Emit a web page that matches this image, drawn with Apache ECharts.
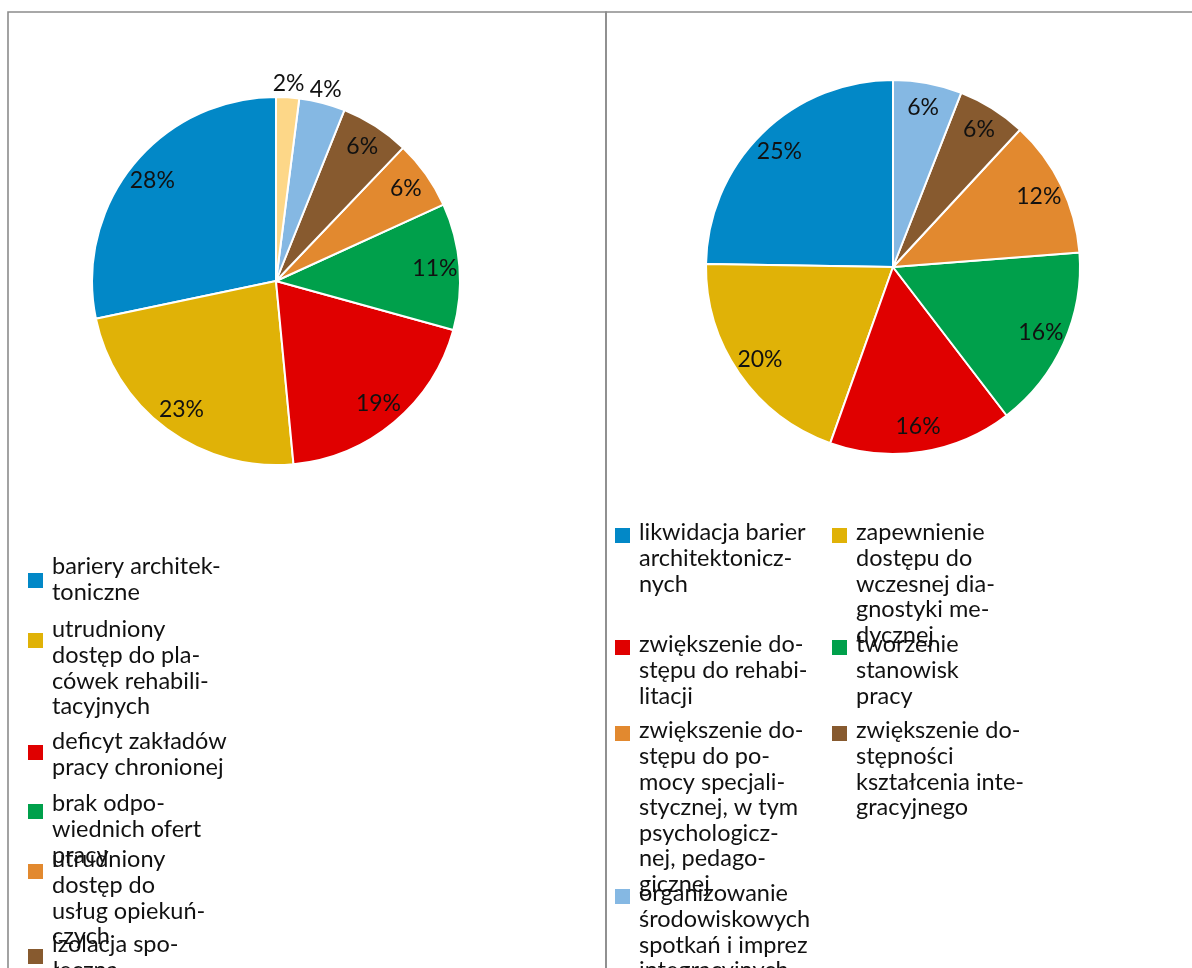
<!DOCTYPE html>
<html lang="pl">
<head>
<meta charset="utf-8">
<title>Bariery i potrzeby</title>
<script src="https://cdn.jsdelivr.net/npm/echarts@6/dist/echarts.min.js"></script>
<style>
  html, body { margin: 0; padding: 0; background: #fff; }
  #chart { width: 1192px; height: 968px; }
</style>
</head>
<body>
<div id="chart"></div>
<script>
// Lewy wykres: bariery
const leftCategories = [
  'bariery architektoniczne',
  'utrudniony dostęp do placówek rehabilitacyjnych',
  'deficyt zakładów pracy chronionej',
  'brak odpowiednich ofert pracy',
  'utrudniony dostęp do usług opiekuńczych',
  'izolacja społeczna',
  'bariery komunikacyjne',
  'inne'
];
const leftLegendText = [
  'bariery architek-\ntoniczne',
  'utrudniony\ndostęp do pla-\ncówek rehabili-\ntacyjnych',
  'deficyt zakładów\npracy chronionej',
  'brak odpo-\nwiednich ofert\npracy',
  'utrudniony\ndostęp do\nusług opiekuń-\nczych',
  'izolacja spo-\nłeczna',
  'bariery komuni-\nkacyjne',
  'inne'
];
const leftValues = [28, 23, 19, 11, 6, 6, 4, 2];

// Prawy wykres: potrzeby
const rightCategories = [
  'likwidacja barier architektonicznych',
  'zapewnienie dostępu do wczesnej diagnostyki medycznej',
  'zwiększenie dostępu do rehabilitacji',
  'tworzenie stanowisk pracy',
  'zwiększenie dostępu do pomocy specjalistycznej, w tym psychologicznej, pedagogicznej',
  'zwiększenie dostępności kształcenia integracyjnego',
  'organizowanie środowiskowych spotkań i imprez integracyjnych'
];
const rightLegendText = [
  'likwidacja barier\narchitektonicz-\nnych',
  'zapewnienie\ndostępu do\nwczesnej dia-\ngnostyki me-\ndycznej',
  'zwiększenie do-\nstępu do rehabi-\nlitacji',
  'tworzenie\nstanowisk\npracy',
  'zwiększenie do-\nstępu do po-\nmocy specjali-\nstycznej, w tym\npsychologicz-\nnej, pedago-\ngicznej',
  'zwiększenie do-\nstępności\nkształcenia inte-\ngracyjnego',
  'organizowanie\nśrodowiskowych\nspotkań i imprez\nintegracyjnych'
];
const rightValues = [25, 20, 16, 16, 12, 6, 6];

// Paleta kolorów
const leftColors = ['#0288C7', '#E0B207', '#E00000', '#00A04B', '#E2892F', '#875A2F', '#85B8E3', '#FDD788'];
const rightColors = ['#0288C7', '#E0B207', '#E00000', '#00A04B', '#E2892F', '#875A2F', '#85B8E3'];

const FONT = 'Lato, "Open Sans", sans-serif';
const TEXT_COLOR = '#111';
const LABEL_SIZE = 23;
const LEGEND_SIZE = 23.5;
const LINE_H = 25.6;
const BASE_OFF = 22; // od góry bloku tekstu do linii bazowej pierwszego wiersza

// Układ legend
const leftLegendLayout = {
  squareX: 28, textX: 52,
  squareTop: [573, 633, 745, 804, 864, 949, 1012, 1075],
  baseline:  [576, 639, 751, 813, 869, 954, 1017, 1080]
};
const rightLegendLayout = {
  cols: [{ squareX: 615, textX: 639 }, { squareX: 832, textX: 856 }],
  rowTop: [528, 640, 726, 889],
  baselineOffset: 14
};

// Mniejsze wycinki opisane poza kołem
const leftOuterLabel = [false, false, false, false, false, false, true, true];
const rightOuterLabel = [false, false, false, false, false, false, false];

function pieSeries(cats, vals, colors, outer, center, r) {
  const base = {
    type: 'pie',
    center: center,
    startAngle: 90,
    clockwise: false,
    avoidLabelOverlap: false,
    animation: false,
    silent: true,
    labelLine: { show: false }
  };
  const labelStyle = {
    fontFamily: FONT, fontSize: LABEL_SIZE, color: TEXT_COLOR,
    formatter: p => p.value + '%'
  };
  return [
    Object.assign({}, base, {
      radius: r,
      label: { show: false },
      itemStyle: { borderColor: '#fff', borderWidth: 2 },
      data: cats.map((c, i) => ({ name: c, value: vals[i], itemStyle: { color: colors[i] } }))
    }),
    // pierścień pomocniczy: etykiety wewnątrz wycinków
    Object.assign({}, base, {
      radius: [r * 0.7, r],
      itemStyle: { color: 'rgba(0,0,0,0)' },
      label: Object.assign({ position: 'inside' }, labelStyle),
      data: cats.map((c, i) => ({ name: c, value: vals[i], label: { show: !outer[i] } }))
    }),
    // pierścień pomocniczy: etykiety tuż za krawędzią koła
    Object.assign({}, base, {
      radius: [r, r * 1.12],
      itemStyle: { color: 'rgba(0,0,0,0)' },
      label: Object.assign({ position: 'inside' }, labelStyle),
      data: cats.map((c, i) => ({ name: c, value: vals[i], label: { show: outer[i] } }))
    })
  ];
}

function legendEntry(x, sq, tx, baseline, color, text) {
  return [
    { type: 'rect', silent: true, shape: { x: x, y: sq, width: 15, height: 15 }, style: { fill: color } },
    {
      type: 'text', silent: true, x: tx, y: baseline - BASE_OFF,
      style: {
        text: text, fill: TEXT_COLOR, fontFamily: FONT, fontSize: LEGEND_SIZE,
        lineHeight: LINE_H, verticalAlign: 'top', align: 'left'
      }
    }
  ];
}

const graphics = [
  // ramki obu wykresów
  { type: 'rect', silent: true, shape: { x: 8, y: 12, width: 598, height: 1000 },
    style: { fill: 'none', stroke: '#8c8c8c', lineWidth: 1.6 } },
  { type: 'rect', silent: true, shape: { x: 606, y: 12, width: 620, height: 1000 },
    style: { fill: 'none', stroke: '#8c8c8c', lineWidth: 1.6 } }
];

leftLegendText.forEach((t, i) => {
  graphics.push(...legendEntry(
    leftLegendLayout.squareX, leftLegendLayout.squareTop[i],
    leftLegendLayout.textX, leftLegendLayout.baseline[i], leftColors[i], t));
});
rightLegendText.forEach((t, i) => {
  const col = rightLegendLayout.cols[i % 2];
  const top = rightLegendLayout.rowTop[Math.floor(i / 2)];
  graphics.push(...legendEntry(
    col.squareX, top, col.textX, top + rightLegendLayout.baselineOffset, rightColors[i], t));
});

const chart = echarts.init(document.getElementById('chart'), null, { renderer: 'canvas' });
chart.setOption({
  backgroundColor: '#fff',
  animation: false,
  series: [
    ...pieSeries(leftCategories, leftValues, leftColors, leftOuterLabel, [276, 281], 184),
    ...pieSeries(rightCategories, rightValues, rightColors, rightOuterLabel, [893, 267], 187)
  ],
  graphic: graphics
});
</script>
</body>
</html>
